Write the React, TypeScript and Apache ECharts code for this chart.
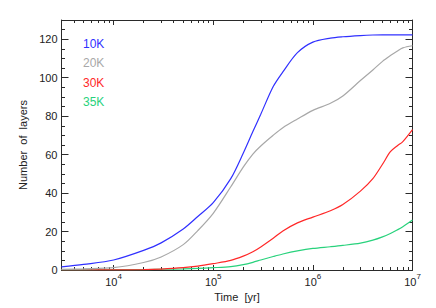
import React, { useEffect, useRef } from 'react';
import * as echarts from 'echarts';

// Time in years (x, log scale)
const timeYr = [3000, 5000, 1e4, 2e4, 3e4, 5e4, 7e4, 1e5, 1.5e5, 2e5, 2.5e5, 3e5, 4e5, 5e5, 7e5, 1e6, 1.5e6, 2e6, 3e6, 4e6, 5e6, 6e6, 7e6, 8e6, 1e7];
// Number of layers for each temperature
const layers10K = [1.6, 2.9, 5.2, 10.2, 14.1, 21.3, 27.8, 35, 47.5, 60.7, 72, 81, 95.4, 103, 113, 118.5, 120.6, 121.3, 121.9, 122.2, 122.3, 122.3, 122.3, 122.3, 122.3];
const layers20K = [0.3, 0.6, 1.2, 3.9, 6.8, 13.2, 20.5, 29.5, 43.3, 53.5, 60.3, 64.5, 70.1, 74, 78.5, 83, 86.7, 90.5, 98.5, 104, 108.5, 111.5, 113.8, 115.5, 116.6];
const layers30K = [0, 0, 0.05, 0.2, 0.5, 1.2, 2, 3.3, 5, 7.2, 9.5, 12, 16.5, 20.3, 24.5, 27.5, 30.8, 34, 41, 47.5, 55, 61.5, 64.5, 66.8, 73];
const layers35K = [0.1, 0.1, 0.15, 0.2, 0.4, 0.6, 0.8, 1.2, 1.8, 2.8, 4, 5.2, 7, 8.3, 9.9, 11.2, 12.1, 12.8, 14, 15.5, 17.2, 19, 20.8, 22.5, 26];

const seriesNames = ['10K', '20K', '30K', '35K'];
const seriesValues = [layers10K, layers20K, layers30K, layers35K];
const seriesColors = ['#3030ff', '#a8a8a8', '#ff2828', '#28d27c'];

const xMajorTicks = [1e4, 1e5, 1e6, 1e7];
const xMinorMultipliers = [2, 3, 4, 5, 6, 7, 8, 9];
const xMinorDecades = [1e3, 1e4, 1e5, 1e6];
const yMajorTicks = [0, 20, 40, 60, 80, 100, 120];
const yMinorTicks = [5, 10, 15, 25, 30, 35, 45, 50, 55, 65, 70, 75, 85, 90, 95, 105, 110, 115, 125];

const X_MIN_YR = 3000;
const X_MAX_YR = 1e7;
const Y_MIN = 0;
const Y_MAX = 130;

const FONT = '"Liberation Sans", Arial, Helvetica, sans-serif';
const AXIS_COLOR = '#2a2a2a';
const TEXT_COLOR = '#222';

const lg = (v: number) => Math.log10(v);
const xMinorTicks: number[] = [];
xMinorDecades.forEach((d) => xMinorMultipliers.forEach((m) => {
  const v = d * m;
  if (v > X_MIN_YR && v < X_MAX_YR) xMinorTicks.push(v);
}));

function xAxisDef(position: 'top' | 'bottom', ticks: number[], len: number, showLine: boolean, showLabel: boolean) {
  return {
    type: 'value',
    position,
    min: lg(X_MIN_YR),
    max: lg(X_MAX_YR),
    splitLine: { show: false },
    axisLine: { show: showLine, onZero: false, lineStyle: { color: AXIS_COLOR, width: 1 } },
    axisTick: {
      show: true,
      inside: true,
      length: len,
      customValues: ticks.map(lg),
      lineStyle: { color: AXIS_COLOR, width: 1 },
    },
    axisLabel: showLabel
      ? {
          show: true,
          customValues: xMajorTicks.map(lg),
          margin: 2,
          formatter: (v: number) => `{n|10}{e|${Math.round(v)}}`,
          rich: {
            n: { fontSize: 11, fontFamily: FONT, color: TEXT_COLOR, lineHeight: 19 },
            e: { fontSize: 8, fontFamily: FONT, color: TEXT_COLOR, lineHeight: 8, verticalAlign: 'top' },
          },
        }
      : { show: false },
    name: showLabel ? 'Time  [yr]' : '',
    nameLocation: 'middle',
    nameGap: 19,
    nameTextStyle: { fontSize: 11, fontFamily: FONT, color: TEXT_COLOR, verticalAlign: 'top' },
  };
}

function yAxisDef(position: 'left' | 'right', ticks: number[], len: number, showLine: boolean, showLabel: boolean) {
  return {
    type: 'value',
    position,
    min: Y_MIN,
    max: Y_MAX,
    splitLine: { show: false },
    axisLine: { show: showLine, onZero: false, lineStyle: { color: AXIS_COLOR, width: 1 } },
    axisTick: {
      show: true,
      inside: true,
      length: len,
      customValues: ticks,
      lineStyle: { color: AXIS_COLOR, width: 1 },
    },
    axisLabel: showLabel
      ? { show: true, customValues: yMajorTicks, margin: 4, fontSize: 11, fontFamily: FONT, color: TEXT_COLOR }
      : { show: false },
    name: showLabel ? 'Number  of  layers' : '',
    nameLocation: 'middle',
    nameRotate: 90,
    nameGap: 29,
    nameTextStyle: { fontSize: 11, fontFamily: FONT, color: TEXT_COLOR },
  };
}

export default function App() {
  const ref = useRef<HTMLDivElement>(null);
  useEffect(() => {
    if (!ref.current) return;
    const chart = echarts.init(ref.current, null, { renderer: 'svg' });
    const option: any = {
      animation: false,
      backgroundColor: '#ffffff',
      textStyle: { fontFamily: FONT },
      grid: { left: 61.5, right: 23.5, top: 20, bottom: 38, containLabel: false, outerBoundsMode: 'none' },
      xAxis: [
        xAxisDef('bottom', xMajorTicks, 5, true, true),
        xAxisDef('bottom', xMinorTicks, 3, false, false),
        xAxisDef('top', xMajorTicks, 5, true, false),
        xAxisDef('top', xMinorTicks, 3, false, false),
      ],
      yAxis: [
        yAxisDef('left', yMajorTicks, 7, true, true),
        yAxisDef('left', yMinorTicks, 3.5, false, false),
        yAxisDef('right', yMajorTicks, 7, true, false),
        yAxisDef('right', yMinorTicks, 3.5, false, false),
      ],
      series: seriesNames.map((name, i) => ({
        name,
        type: 'line',
        xAxisIndex: 0,
        yAxisIndex: 0,
        showSymbol: false,
        symbol: 'none',
        smooth: 0.3,
        lineStyle: { color: seriesColors[i], width: 1.2 },
        itemStyle: { color: seriesColors[i] },
        data: timeYr.map((t, j) => [lg(t), seriesValues[i][j]]),
        z: 10 - i,
      })),
      graphic: seriesNames.map((name, i) => ({
        type: 'text',
        left: 83,
        top: 38 + i * 19.3,
        style: { text: name, fill: seriesColors[i], fontSize: 12, fontFamily: FONT },
      })),
    };
    chart.setOption(option);
    return () => chart.dispose();
  }, []);
  return (
    <div
      ref={ref}
      style={{ position: 'fixed', left: 0, top: 0, width: 436, height: 308, background: '#fff' }}
    />
  );
}
